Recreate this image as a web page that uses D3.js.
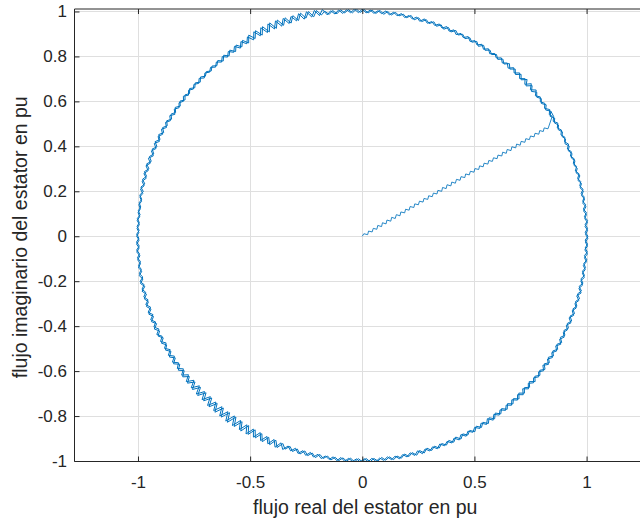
<!DOCTYPE html>
<html>
<head>
<meta charset="utf-8">
<script src="https://cdn.jsdelivr.net/npm/d3@7"></script>
<style>
  html, body { margin: 0; padding: 0; background: #fff; }
  svg { display: block; }
  text { font-family: "Liberation Sans", Arial, Helvetica, sans-serif; fill: #262626; }
</style>
</head>
<body>
<svg id="chart" width="640" height="521"></svg>
<script>
// ---------- data ----------
const xTicks = [-1, -0.5, 0, 0.5, 1];
const yTicks = [-1, -0.8, -0.6, -0.4, -0.2, 0, 0.2, 0.4, 0.6, 0.8, 1];
const xLabel = "flujo real del estator en pu";
const yLabel = "flujo imaginario del estator en pu";

// start-up trajectory from the origin (staircase / zigzag), real part
const startRe = [0, 0.007, 0.024, 0.028, 0.044, 0.049, 0.065, 0.069, 0.086, 0.090,
  0.106, 0.110, 0.127, 0.131, 0.147, 0.152, 0.168, 0.172, 0.189, 0.193,
  0.209, 0.213, 0.230, 0.234, 0.250, 0.255, 0.271, 0.275, 0.292, 0.296,
  0.312, 0.317, 0.333, 0.337, 0.354, 0.358, 0.374, 0.378, 0.395, 0.399,
  0.415, 0.420, 0.436, 0.440, 0.457, 0.461, 0.477, 0.482, 0.498, 0.502,
  0.519, 0.523, 0.539, 0.543, 0.560, 0.564, 0.580, 0.585, 0.601, 0.605,
  0.622, 0.626, 0.642, 0.646, 0.663, 0.667, 0.684, 0.688, 0.704, 0.708,
  0.725, 0.729, 0.745, 0.750, 0.766, 0.770, 0.787, 0.791, 0.807, 0.811,
  0.828, 0.847];
// start-up trajectory, imaginary part
const startIm = [0, 0.011, 0.007, 0.023, 0.019, 0.035, 0.031, 0.048, 0.043, 0.060,
  0.055, 0.072, 0.067, 0.084, 0.079, 0.096, 0.091, 0.108, 0.104, 0.120,
  0.116, 0.132, 0.128, 0.144, 0.140, 0.156, 0.152, 0.168, 0.164, 0.180,
  0.176, 0.192, 0.188, 0.204, 0.200, 0.217, 0.212, 0.229, 0.224, 0.241,
  0.236, 0.253, 0.249, 0.265, 0.261, 0.277, 0.273, 0.289, 0.285, 0.301,
  0.297, 0.313, 0.309, 0.325, 0.321, 0.337, 0.333, 0.349, 0.345, 0.361,
  0.357, 0.374, 0.369, 0.386, 0.381, 0.398, 0.393, 0.410, 0.405, 0.422,
  0.418, 0.434, 0.430, 0.446, 0.442, 0.458, 0.454, 0.470, 0.466, 0.482,
  0.478, 0.534];

// flux angle grid (degrees) for one revolution
const revAngle = [
  0,1,2,3,4,5,6,7,8,9, 10,11,12,13,14,15,16,17,18,19, 20,21,22,23,24,25,26,27,28,29,
  30,31,32,33,34,35,36,37,38,39, 40,41,42,43,44,45,46,47,48,49, 50,51,52,53,54,55,56,57,58,59,
  60,61,62,63,64,65,66,67,68,69, 70,71,72,73,74,75,76,77,78,79, 80,81,82,83,84,85,86,87,88,89,
  90,91,92,93,94,95,96,97,98,99, 100,101,102,103,104,105,106,107,108,109, 110,111,112,113,114,115,116,117,118,119,
  120,121,122,123,124,125,126,127,128,129, 130,131,132,133,134,135,136,137,138,139, 140,141,142,143,144,145,146,147,148,149,
  150,151,152,153,154,155,156,157,158,159, 160,161,162,163,164,165,166,167,168,169, 170,171,172,173,174,175,176,177,178,179,
  180,181,182,183,184,185,186,187,188,189, 190,191,192,193,194,195,196,197,198,199, 200,201,202,203,204,205,206,207,208,209,
  210,211,212,213,214,215,216,217,218,219, 220,221,222,223,224,225,226,227,228,229, 230,231,232,233,234,235,236,237,238,239,
  240,241,242,243,244,245,246,247,248,249, 250,251,252,253,254,255,256,257,258,259, 260,261,262,263,264,265,266,267,268,269,
  270,271,272,273,274,275,276,277,278,279, 280,281,282,283,284,285,286,287,288,289, 290,291,292,293,294,295,296,297,298,299,
  300,301,302,303,304,305,306,307,308,309, 310,311,312,313,314,315,316,317,318,319, 320,321,322,323,324,325,326,327,328,329,
  330,331,332,333,334,335,336,337,338,339, 340,341,342,343,344,345,346,347,348,349, 350,351,352,353,354,355,356,357,358,359];
// the second revolution is sampled half a degree later
const rev2AngleShift = 0.5;

// flux magnitude, first revolution
const rev1Mag = [
  1.006,0.994,1.005,0.995,1.007,0.994,1.005,0.993,1.006,0.995,
  1.005,0.994,1.006,0.995,1.004,0.994,1.006,0.993,1.005,0.995,
  1.006,0.994,1.005,0.993,1.007,0.995,1.005,0.994,1.006,0.994,
  1.007,0.993,1.006,0.994,1.008,0.992,1.006,0.994,1.007,0.993,
  1.012,0.993,1.014,0.991,1.009,0.992,1.010,0.993,1.009,0.991,
  1.006,0.992,1.007,0.993,1.005,0.991,1.006,0.992,1.007,0.993,
  1.005,0.991,1.006,0.992,1.004,0.990,1.005,0.991,1.006,0.992,
  1.005,0.992,1.004,0.991,1.006,0.990,1.005,0.992,1.004,0.991,
  1.006,0.993,1.007,0.992,1.008,0.994,1.006,0.993,1.007,0.994,
  1.010,0.995,1.011,0.996,1.010,0.995,1.012,0.996,1.013,0.997,
  1.024,1.000,1.027,1.001,1.029,1.000,1.030,1.002,1.028,1.001,
  1.031,1.001,1.033,1.002,1.034,1.000,1.032,1.001,1.030,0.999,
  1.024,0.999,1.021,0.998,1.019,0.999,1.016,0.998,1.014,0.997,
  1.012,0.997,1.011,0.998,1.010,0.996,1.011,0.997,1.010,0.998,
  1.011,0.997,1.012,0.998,1.010,0.997,1.011,0.996,1.012,0.998,
  1.013,0.998,1.014,0.999,1.013,0.998,1.015,0.999,1.014,0.998,
  1.015,0.999,1.014,0.998,1.013,0.997,1.012,0.998,1.011,0.997,
  1.007,0.996,1.006,0.997,1.005,0.996,1.006,0.995,1.005,0.996,
  1.006,0.995,1.007,0.996,1.008,0.995,1.007,0.996,1.008,0.995,
  1.010,0.996,1.011,0.995,1.012,0.996,1.011,0.997,1.012,0.996,
  1.013,0.997,1.014,0.996,1.015,0.997,1.013,0.996,1.014,0.997,
  1.013,0.995,1.014,0.994,1.015,0.993,1.014,0.994,1.016,0.992,
  1.017,0.988,1.019,0.986,1.020,0.985,1.018,0.984,1.021,0.986,
  1.022,0.984,1.021,0.983,1.023,0.982,1.021,0.984,1.022,0.983,
  1.018,0.985,1.016,0.986,1.017,0.987,1.015,0.986,1.014,0.988,
  1.008,0.989,1.007,0.990,1.008,0.989,1.006,0.990,1.007,0.989,
  1.004,0.990,1.005,0.991,1.004,0.990,1.003,0.989,1.004,0.990,
  1.003,0.989,1.004,0.990,1.003,0.988,1.002,0.989,1.004,0.990,
  1.003,0.987,1.002,0.988,1.004,0.987,1.003,0.986,1.002,0.988,
  1.003,0.988,1.002,0.987,1.003,0.986,1.004,0.987,1.002,0.988,
  1.004,0.986,1.003,0.987,1.005,0.986,1.004,0.985,1.003,0.987,
  1.005,0.987,1.004,0.988,1.006,0.987,1.005,0.988,1.004,0.986,
  1.006,0.990,1.005,0.991,1.007,0.990,1.006,0.989,1.005,0.991,
  1.006,0.992,1.007,0.991,1.005,0.992,1.006,0.993,1.007,0.992,
  1.007,0.993,1.006,0.994,1.008,0.993,1.007,0.992,1.006,0.993,
  1.006,0.994,1.005,0.995,1.007,0.994,1.006,0.995,1.005,0.994];

// flux magnitude, second revolution
const rev2Mag = [
  0.995,1.005,0.994,1.006,0.995,1.004,0.993,1.006,0.994,1.005,
  0.994,1.006,0.995,1.005,0.993,1.007,0.994,1.005,0.995,1.006,
  0.995,1.005,0.994,1.006,0.993,1.004,0.995,1.006,0.994,1.005,
  0.994,1.006,0.993,1.008,0.992,1.007,0.993,1.006,0.994,1.008,
  0.992,1.011,0.990,1.013,0.993,1.010,0.992,1.009,0.993,1.010,
  0.993,1.007,0.992,1.006,0.993,1.005,0.992,1.007,0.991,1.006,
  0.992,1.005,0.991,1.004,0.992,1.006,0.991,1.005,0.990,1.004,
  0.991,1.006,0.992,1.005,0.991,1.004,0.990,1.006,0.992,1.005,
  0.994,1.007,0.993,1.006,0.992,1.008,0.993,1.007,0.994,1.008,
  0.996,1.011,0.995,1.010,0.997,1.012,0.996,1.013,0.998,1.015,
  1.001,1.025,1.000,1.028,1.002,1.030,1.001,1.029,1.000,1.031,
  1.002,1.034,1.001,1.035,0.999,1.033,1.000,1.031,1.001,1.028,
  0.998,1.022,0.999,1.020,0.997,1.017,0.998,1.015,0.996,1.013,
  0.998,1.011,0.997,1.010,0.998,1.011,0.996,1.010,0.997,1.012,
  0.998,1.010,0.996,1.011,0.997,1.012,0.998,1.011,0.997,1.012,
  0.999,1.013,0.998,1.014,0.999,1.015,0.998,1.014,0.999,1.013,
  0.998,1.014,0.997,1.013,0.998,1.012,0.997,1.011,0.996,1.009,
  0.997,1.006,0.996,1.005,0.995,1.006,0.996,1.005,0.995,1.006,
  0.996,1.007,0.995,1.008,0.996,1.007,0.995,1.006,0.996,1.008,
  0.995,1.011,0.996,1.010,0.997,1.011,0.996,1.012,0.995,1.013,
  0.996,1.014,0.997,1.013,0.996,1.015,0.997,1.014,0.995,1.013,
  0.994,1.014,0.993,1.015,0.994,1.013,0.992,1.015,0.990,1.017,
  0.987,1.018,0.985,1.020,0.986,1.019,0.984,1.021,0.985,1.020,
  0.983,1.021,0.984,1.023,0.982,1.022,0.983,1.020,0.984,1.021,
  0.986,1.017,0.985,1.016,0.987,1.015,0.986,1.016,0.988,1.013,
  0.990,1.007,0.989,1.008,0.990,1.007,0.989,1.006,0.990,1.006,
  0.991,1.004,0.990,1.005,0.989,1.004,0.990,1.003,0.991,1.004,
  0.990,1.003,0.989,1.004,0.990,1.002,0.988,1.003,0.989,1.004,
  0.988,1.002,0.987,1.003,0.986,1.004,0.987,1.002,0.988,1.003,
  0.987,1.002,0.988,1.003,0.987,1.004,0.986,1.003,0.987,1.002,
  0.987,1.003,0.986,1.004,0.985,1.005,0.986,1.003,0.987,1.004,
  0.988,1.004,0.987,1.005,0.988,1.006,0.986,1.005,0.988,1.004,
  0.990,1.005,0.991,1.006,0.989,1.007,0.990,1.005,0.991,1.006,
  0.991,1.007,0.992,1.006,0.993,1.005,0.992,1.007,0.991,1.006,
  0.993,1.006,0.994,1.007,0.992,1.008,0.993,1.006,0.994,1.007,
  0.995,1.005,0.994,1.006,0.995,1.007,0.994,1.005,0.995,1.006];

// ---------- layout ----------
const W = 640, H = 521;
const axL = 74.5, axB = 461.5, axT = 9;
const xDomain = [-1.283, 1.283];
const yDomain = [-1.0, 1.011];
const pxPerUnit = 224.3;
const x = d3.scaleLinear().domain(xDomain).range([axL, axL + (xDomain[1] - xDomain[0]) * pxPerUnit]);
const y = d3.scaleLinear().domain(yDomain).range([axB - 0.5, axT]);
const axR = x(xDomain[1]);

const svg = d3.select("#chart");
svg.append("rect").attr("width", W).attr("height", H).attr("fill", "#fff");

svg.append("defs").append("clipPath").attr("id", "plotclip")
  .append("rect").attr("x", axL).attr("y", axT).attr("width", axR - axL).attr("height", axB - axT);

// grid
const grid = svg.append("g").attr("stroke", "#dfdfdf").attr("stroke-width", 1).attr("shape-rendering", "crispEdges");
grid.selectAll("line.gx").data(xTicks).join("line")
  .attr("x1", d => Math.round(x(d)) + 0.5).attr("x2", d => Math.round(x(d)) + 0.5)
  .attr("y1", axT).attr("y2", axB);
grid.selectAll("line.gy").data(yTicks).join("line")
  .attr("y1", d => Math.round(y(d)) + 0.5).attr("y2", d => Math.round(y(d)) + 0.5)
  .attr("x1", axL).attr("x2", axR);

// trajectory: start-up, then two revolutions starting where the start-up meets the circle
const startPts = startRe.map((v, i) => [v, startIm[i]]);
const circPts = [startPts[startPts.length - 1]];
const n = revAngle.length;
const i0 = revAngle.indexOf(33);
function addRev(mag, shift, extra) {
  for (let k = 0; k < n + extra; k++) {
    const i = (i0 + k) % n;
    const a = (revAngle[i] + shift) * Math.PI / 180;
    circPts.push([mag[i] * Math.cos(a), mag[i] * Math.sin(a)]);
  }
}
addRev(rev1Mag, 0, 0);
addRev(rev2Mag, rev2AngleShift, 1);

const line = d3.line().x(d => x(d[0])).y(d => y(d[1]));
const plot = svg.append("g").attr("clip-path", "url(#plotclip)")
  .attr("fill", "none").attr("stroke", "#0072BD").attr("stroke-linejoin", "round");
plot.append("path").attr("d", line(startPts)).attr("stroke-width", 0.85);
plot.append("path").attr("d", line(circPts)).attr("stroke-width", 1.0);

// axes box
const axisColor = "#262626";
svg.append("line").attr("x1", axL).attr("x2", axR).attr("y1", axT).attr("y2", axT)
  .attr("stroke", axisColor).attr("stroke-width", 1);
svg.append("line").attr("x1", axL).attr("x2", axL).attr("y1", axT).attr("y2", axB)
  .attr("stroke", axisColor).attr("stroke-width", 1);
svg.append("line").attr("x1", axL).attr("x2", axR).attr("y1", axB).attr("y2", axB)
  .attr("stroke", axisColor).attr("stroke-width", 1);

// ticks (inward) using d3 axes
const fmt = d => String(d);
const tickFont = "17px";
const xAxis = d3.axisBottom(x).tickValues(xTicks).tickSize(-5).tickPadding(14).tickFormat(fmt);
const gx = svg.append("g").attr("transform", `translate(0,${axB})`).call(xAxis);
const xAxisTop = d3.axisTop(x).tickValues(xTicks).tickSize(-5).tickFormat("");
const gxt = svg.append("g").attr("transform", `translate(0,${axT})`).call(xAxisTop);
const yAxis = d3.axisLeft(y).tickValues(yTicks).tickSize(-5).tickPadding(7.5).tickFormat(fmt);
const gy = svg.append("g").attr("transform", `translate(${axL},0)`).call(yAxis);
[gx, gxt, gy].forEach(g => {
  g.select(".domain").remove();
  g.selectAll(".tick line").attr("stroke", axisColor);
  g.selectAll(".tick text").attr("fill", axisColor).style("font-size", tickFont)
    .style("font-family", '"Liberation Sans", Arial, sans-serif');
});

// axis labels
const labelFont = "19.5px";
svg.append("text").attr("x", x(0) + 3).attr("y", 514).attr("text-anchor", "middle")
  .style("font-size", labelFont).text(xLabel);
svg.append("text").attr("transform", `translate(27,${y(0) + 1}) rotate(-90)`).attr("text-anchor", "middle")
  .style("font-size", labelFont).text(yLabel);
</script>
</body>
</html>
